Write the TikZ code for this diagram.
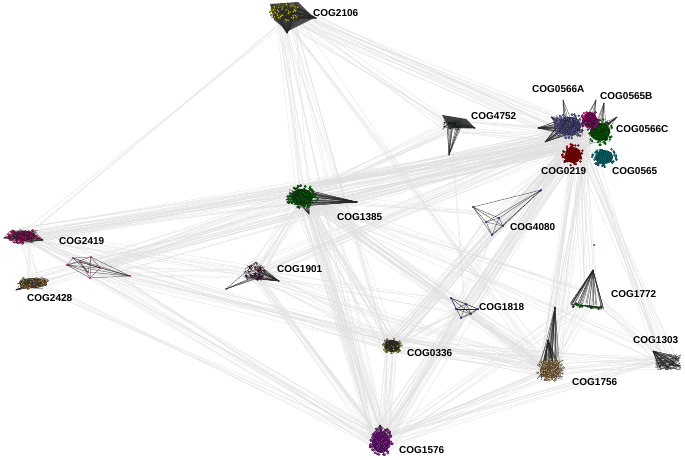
\documentclass[tikz,border=0pt]{standalone}
\usepackage{fontspec}
\newfontfamily\labfont{Liberation Sans}
\usetikzlibrary{calc}
\definecolor{cyel}{RGB}{225,225,0}
\definecolor{cblue}{RGB}{115,115,205}
\definecolor{cmag}{RGB}{205,0,145}
\definecolor{cgrn}{RGB}{0,135,0}
\definecolor{cred}{RGB}{190,0,0}
\definecolor{cteal}{RGB}{0,150,160}
\definecolor{cpink}{RGB}{205,30,130}
\definecolor{corg}{RGB}{220,160,30}
\definecolor{cmar}{RGB}{125,20,85}
\definecolor{cpur}{RGB}{170,40,185}
\definecolor{ctan}{RGB}{220,180,120}
\definecolor{cnavy}{RGB}{40,40,150}
\tikzset{
  edge/.style={draw=black!12,line width=0.3pt},
  spoke/.style={draw=black!85,line width=0.25pt},
  lab/.style={font=\labfont\bfseries\fontsize{10}{12}\selectfont,inner sep=0pt,anchor=west}
}
\newcommand\blobdots[6]{%
  \foreach \i in {1,...,#5}{%
    \pgfmathsetmacro\ang{rand*180}%
    \pgfmathsetmacro\rr{sqrt(rnd)}%
    \fill[#2,draw=black,line width=0.1pt] ($(#1)+({\rr*#3*cos(\ang)},{\rr*#4*sin(\ang)})$) circle (#6);
  }}
\newcommand\fanto[5]{%
  \foreach \i in {1,...,#5}{\draw[spoke] ($(#1)+({rand*#2},{rand*#3})$) -- (#4);}}
\newcommand\meshin[4]{%
  \foreach \i in {1,...,#4}{\draw[spoke] ($(#1)+({rand*#2},{rand*#3})$) -- ($(#1)+({rand*#2},{rand*#3})$);}}
\begin{document}
\begin{tikzpicture}[x=1pt,y=-1pt]
\pgfmathsetseed{11}
\fill[white] (0,0) rectangle (685,460);
\useasboundingbox (0,0) rectangle (685,460);
% cluster centres
\coordinate (c2106) at (285,12);
\coordinate (c0566A) at (570,126);
\coordinate (c0565B) at (590,120);
\coordinate (c0566C) at (600,132);
\coordinate (c0219) at (573,155);
\coordinate (c0565) at (604,157);
\coordinate (ctr) at (580,138);
\coordinate (c4752) at (452,125);
\coordinate (c4080) at (495,215);
\coordinate (c1385) at (302,197);
\coordinate (c2419) at (24,236);
\coordinate (c2419b) at (95,268);
\coordinate (c2428) at (33,283);
\coordinate (c1901) at (255,273);
\coordinate (c1818) at (464,308);
\coordinate (c1772) at (590,295);
\coordinate (c0336) at (392,346);
\coordinate (c1303) at (668,362);
\coordinate (c1756) at (550,370);
\coordinate (c1576) at (381,442);
% inter-cluster edges
\foreach \a/\b/\n/\s in {ctr/c1385/40/14, ctr/c2419/16/10, ctr/c1901/14/10, ctr/c4752/12/10,
  ctr/c0336/18/10, ctr/c1576/14/10, ctr/c1756/24/12, ctr/c1303/14/10, ctr/c1772/12/10,
  ctr/c1818/12/10, ctr/c2106/18/12, ctr/c4080/8/10, ctr/c2428/6/10, ctr/c2419b/10/10,
  c1385/c1576/28/10, c1385/c0336/14/10, c1385/c2419/14/8, c1385/c1901/12/8, c1385/c2106/10/10,
  c1385/c1756/12/10, c1385/c4752/10/8, c1385/c1818/8/8, c1385/c2428/6/8, c1385/c2419b/8/8,
  c1385/c1303/5/8, c1385/c1772/5/8,
  c1576/c0336/16/8, c1576/c1756/12/10, c1576/c2419/7/8, c1576/c1303/7/8, c1576/c1901/10/8,
  c1576/c1818/10/8, c1576/c2428/5/8, c1576/c2419b/6/8, c1576/c1772/5/8,
  c2106/c0336/6/8, c2106/c4752/7/8, c2106/c2419/3/8, c2106/c1576/5/8, c2106/c1756/5/8,
  c4752/c1818/2/2,
  c1756/c0336/12/10, c1756/c1303/10/8, c1756/c1818/10/8, c1756/c1772/6/8, c1756/c1901/6/8,
  c1756/c2419b/5/8,
  c2419/c2428/7/8, c2419/c1901/7/8, c2419/c0336/7/8, c2419/c2419b/7/6,
  c1901/c0336/6/8, c1901/c1818/5/8, c2419b/c0336/5/8, c2419b/c1901/5/8,
  c1303/c1772/6/8, c1303/c0336/6/8, c0336/c1818/7/8,
  c4080/c1818/4/8, c4080/c0336/4/8, c4080/c1385/5/8}{
  \foreach \i in {1,...,\n}{
    \draw[edge] ($(\a)+({rand*\s},{rand*\s})$) -- ($(\b)+({rand*\s},{rand*\s})$);
  }}
% ---------- COG2106
\coordinate (a2106r) at (316,18);
\coordinate (a2106b) at (287,33);
\fill[black!70] (270,4) -- (298,2) -- (314,18) -- (288,31) -- (274,20) -- cycle;
\fanto{c2106}{14}{8}{a2106r}{30}
\fanto{c2106}{14}{8}{a2106b}{30}
\meshin{c2106}{15}{9}{50}
\blobdots{c2106}{cyel}{16}{9}{60}{1.1pt}
% ---------- top-right group
\coordinate (t1) at (538,128);
\coordinate (t2) at (545,142);
\coordinate (t3) at (563,100);
\coordinate (t4) at (596,100);
\coordinate (t5) at (604,103);
\coordinate (t6) at (617,117);
\coordinate (t7) at (551,117);
\fanto{c0566A}{10}{10}{t1}{22}
\fanto{c0566A}{10}{10}{t2}{16}
\fanto{c0566A}{10}{10}{t7}{12}
\fanto{c0566A}{8}{8}{t3}{6}
\fanto{c0565B}{8}{8}{t4}{6}
\fanto{c0566C}{8}{8}{t5}{8}
\fanto{c0566C}{8}{8}{t6}{10}
\fill[cblue!50!black] (c0566A) ellipse (11 and 9);
\fill[cgrn!50!black] (c0566C) ellipse (10 and 9);
\fill[cmag!50!black] (c0565B) ellipse (7 and 8);
\meshin{c0566A}{14}{12}{30}
\meshin{c0566C}{12}{12}{25}
\blobdots{c0566A}{cblue}{17}{13}{80}{1.1pt}
\blobdots{c0566C}{cgrn}{13}{13}{65}{1.1pt}
\blobdots{c0565B}{cmag}{9}{10}{45}{1.1pt}
\fill[cred!55!black] (c0219) ellipse (8 and 8);
\blobdots{c0219}{cred}{11}{11}{60}{1.1pt}
\fill[cteal!55!black] (c0565) ellipse (9 and 7);
\blobdots{c0565}{cteal}{13}{10}{60}{1.1pt}
% ---------- COG4752
\coordinate (a4752r) at (475,128);
\coordinate (a4752b) at (449,155);
\fill[black!75] (442,115) -- (466,119) -- (475,128) -- (449,128) -- cycle;
\fanto{c4752}{9}{4}{a4752r}{15}
\fanto{c4752}{9}{4}{a4752b}{15}
\meshin{c4752}{10}{5}{30}
\blobdots{c4752}{cgrn!60!black}{9}{4}{15}{0.7pt}
% ---------- COG4080
\coordinate (p1) at (473,207);
\coordinate (p2) at (541,190);
\coordinate (p3) at (492,235);
\coordinate (p4) at (499,218);
\coordinate (p5) at (503,226);
\coordinate (p6) at (486,222);
\foreach \u/\v in {p1/p2,p1/p3,p1/p4,p1/p5,p1/p6,p2/p3,p2/p4,p2/p5,p3/p4,p3/p5,p3/p6,p4/p5,p4/p6,p5/p6,p2/p6}{
  \draw[spoke] (\u) -- (\v);}
\foreach \u in {p1,p2,p3,p4,p5,p6}{\fill[cnavy] (\u) circle (1.1pt);}
% ---------- COG1818
\coordinate (q1) at (451,298);
\coordinate (q2) at (478,309);
\coordinate (q3) at (461,318);
\coordinate (q4) at (466,304);
\coordinate (q5) at (471,314);
\coordinate (q6) at (456,309);
\foreach \u/\v in {q1/q2,q1/q3,q1/q4,q1/q5,q2/q3,q2/q4,q2/q6,q3/q4,q3/q5,q4/q5,q4/q6,q5/q6,q1/q6,q2/q5}{
  \draw[spoke] (\u) -- (\v);}
\foreach \u in {q1,q2,q3,q4,q5,q6}{\fill[cnavy] (\u) circle (1.1pt);}
\fill[cnavy] (540,191) circle (1pt);
\fill[cnavy] (594,245) circle (1pt);
% ---------- COG1385
\coordinate (a1385r) at (357,202);
\coordinate (a1385b) at (309,214);
\coordinate (a1385l) at (286,200);
\fanto{c1385}{12}{9}{a1385r}{35}
\fanto{c1385}{12}{9}{a1385b}{12}
\fanto{c1385}{12}{9}{a1385l}{8}
\fill[cgrn!45!black] (c1385) ellipse (11 and 8);
\meshin{c1385}{14}{10}{30}
\blobdots{c1385}{cgrn}{16}{12}{85}{1.1pt}
% ---------- COG1901
\coordinate (a1901r) at (279,281);
\coordinate (a1901l) at (226,289);
\coordinate (a1901t) at (256,262);
\fanto{c1901}{10}{7}{a1901r}{25}
\fanto{c1901}{10}{7}{a1901l}{5}
\fanto{c1901}{10}{7}{a1901t}{8}
\meshin{c1901}{12}{8}{30}
\blobdots{c1901}{cmar}{11}{8}{25}{1pt}
\fill[cmar] (a1901l) circle (1pt);
% ---------- COG2419
\coordinate (a2419r) at (43,240);
\coordinate (a2419l) at (4,238);
\fanto{c2419}{14}{7}{a2419r}{15}
\fanto{c2419}{14}{7}{a2419l}{10}
\fill[cpink!45!black] (c2419) ellipse (12 and 5);
\meshin{c2419}{15}{7}{25}
\blobdots{c2419}{cpink}{16}{8}{60}{1.1pt}
% second magenta group
\coordinate (m1) at (67,265);
\coordinate (m2) at (130,276);
\coordinate (m3) at (88,272);
\coordinate (m4) at (73,258);
\coordinate (m5) at (91,257);
\coordinate (m6) at (100,268);
\coordinate (m7) at (80,262);
\coordinate (m8) at (90,278);
\foreach \u/\v in {m1/m2,m1/m3,m1/m4,m1/m5,m1/m6,m1/m7,m2/m3,m2/m4,m2/m5,m2/m6,m2/m7,m2/m8,m3/m4,m3/m5,m3/m7,m4/m5,m4/m6,m5/m6,m5/m8,m6/m7,m6/m8,m7/m8,m1/m8}{
  \draw[spoke] (\u) -- (\v);}
\foreach \u in {m1,m2,m3,m4,m5,m6,m7,m8}{\fill[cpink] (\u) circle (1.1pt);}
% ---------- COG2428
\coordinate (a2428l) at (16,290);
\fanto{c2428}{14}{5}{a2428l}{12}
\fill[black!70] (c2428) ellipse (14 and 5);
\meshin{c2428}{16}{6}{25}
\blobdots{c2428}{corg}{16}{6}{35}{1.1pt}
% ---------- COG1772
\coordinate (a1772) at (593,270);
\foreach \i in {1,...,30}{
  \draw[spoke] (a1772) -- ($(570,304)!rnd!(604,308)+(0,{rand*2})$);}
\foreach \i in {1,...,20}{
  \draw[spoke] ($(570,304)!rnd!(604,308)$) -- ($(570,304)!rnd!(604,308)+(0,{rand*2})$);}
\foreach \i in {1,...,18}{
  \fill[cgrn,draw=black,line width=0.1pt] ($(572,305)!rnd!(604,308)+(0,{rand*2})$) circle (1pt);}
% ---------- COG1756
\coordinate (a1756) at (555,307);
\coordinate (a1756m) at (548,340);
\fanto{c1756}{10}{8}{a1756}{22}
\fanto{c1756}{12}{8}{a1756m}{30}
\meshin{c1756}{14}{10}{30}
\fill[ctan!45!black] (c1756) ellipse (10 and 8);
\blobdots{c1756}{ctan}{14}{11}{75}{1.2pt}
% ---------- COG1303
\coordinate (a1303l) at (653,351);
\fanto{c1303}{12}{8}{a1303l}{25}
\meshin{c1303}{13}{8}{60}
\blobdots{c1303}{black!60}{12}{8}{20}{0.8pt}
% ---------- COG0336
\fill[black!85] (c0336) ellipse (8 and 6);
\blobdots{c0336}{cyel!85!black}{10}{8}{40}{1pt}
\meshin{c0336}{9}{7}{25}
% ---------- COG1576
\coordinate (a1576t) at (380,425);
\fanto{c1576}{11}{12}{a1576t}{15}
\fill[cpur!45!black] (c1576) ellipse (9 and 11);
\blobdots{c1576}{cpur}{12}{15}{85}{1.2pt}
% ---------- labels
\node[lab] (l2106) at (313,13) {COG2106};
\node[lab] (l0566A) at (532,89) {COG0566A};
\node[lab] (l0565B) at (600,96) {COG0565B};
\node[lab] (l0566C) at (616,129) {COG0566C};
\node[lab] (l0219) at (541,171) {COG0219};
\node[lab] (l0565) at (612,171) {COG0565};
\node[lab] (l4752) at (471,116) {COG4752};
\node[lab] (l4080) at (510,227) {COG4080};
\node[lab] (l1385) at (337,217) {COG1385};
\node[lab] (l2419) at (59,241) {COG2419};
\node[lab] (l2428) at (27,298) {COG2428};
\node[lab] (l1901) at (277,269) {COG1901};
\node[lab] (l1818) at (479,307) {COG1818};
\node[lab] (l1772) at (611,294) {COG1772};
\node[lab] (l1303) at (633,340) {COG1303};
\node[lab] (l1756) at (572,382) {COG1756};
\node[lab] (l0336) at (407,353) {COG0336};
\node[lab] (l1576) at (399,450) {COG1576};
\end{tikzpicture}
\end{document}
